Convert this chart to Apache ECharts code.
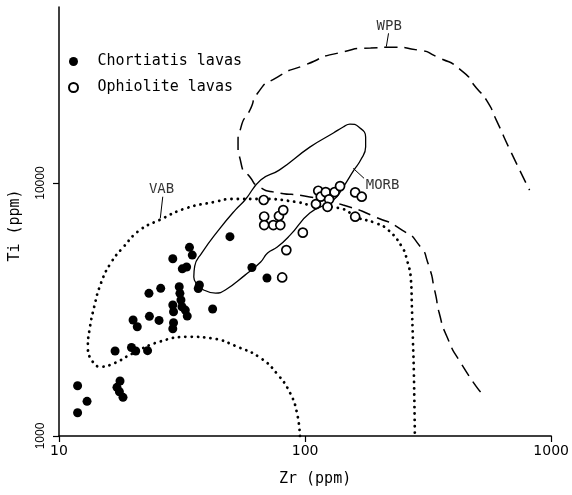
<!DOCTYPE html>
<html><head><meta charset="utf-8">
<script src="https://cdn.jsdelivr.net/npm/echarts@6/dist/echarts.min.js"></script>
<style>html,body{margin:0;padding:0;background:#fff}#c{width:572px;height:495px}</style>
</head><body><div id="c"></div>
<script>
// Chortiatis lavas (filled)
const chortiatisZr = [11.9,13.0,11.9,17.7,17.2,17.6,18.2,16.9,19.7,20.5,22.9,20.0,20.8,23.3,25.5,23.2,25.9,29.0,33.9,34.8,31.7,33.0,30.8,31.0,31.3,29.0,29.2,31.6,32.6,33.2,29.2,29.0,37.2,36.8,42.1,49.5,60.8,70.0];
const chortiatisTi = [1580,1371,1236,1649,1557,1496,1422,2168,2239,2168,2174,2874,2704,2972,2864,3664,3836,5023,5570,5190,4580,4655,3892,3664,3448,3296,3098,3243,3147,2978,2804,2655,3955,3831,3177,6137,4634,4212];
// Ophiolite lavas (open)
const ophioliteZr = [67.9,68.2,68.2,74.3,79.3,78.3,81.5,97.9,83.9,80.7,110.7,113.1,115.8,121.3,125.2,123.3,131.8,138.7,159.8,169.9,159.8];
const ophioliteTi = [8570,7374,6823,6823,6823,7408,7818,6368,5432,4236,8261,9325,8831,9206,8622,8054,9206,9727,9185,8831,7364];
// Field boundaries
const vabZr = [95.3,92.7,86.9,77.1,66.0,53.4,41.8,33.7,25.6,20.0,16.7,14.8,13.7,13.1,13.3,13.9,14.8,16.2,18.3,21.3,25.6,32.7,43.2,50.1,68.5,92.7,104.5,142.8,161.1,193.4,217.8,247.8,259.4,269.2,271.6,274.2,276.7,279.3];
const vabTi = [1000,1233,1479,1758,2032,2248,2432,2467,2359,2124,1936,1879,1967,2254,2624,3243,4015,4815,5596,6518,7142,7943,8433,8650,8650,8410,8185,7888,7337,6950,6518,5582,4966,4140,3236,2393,1775,1000];
const morbZr = [38.7,36.3,35.3,35.6,38.0,44.5,52.0,57.0,66.0,78.5,104.5,130.3,142.8,152.2,165.3,176.2,176.2,168.2,157.8,142.8,130.3,104.5,86.9,77.1,70.4,66.0,57.0,47.4,43.3,38.7];
const morbTi = [3776,3990,4250,4695,5287,6518,7818,8570,10280,11250,13870,15770,16650,17110,16650,15210,13870,12330,11250,9636,8570,7607,6224,5582,5287,4875,4325,3776,3673,3776];
const wpbZr = [516.4,429.5,377.6,350.8,338.1,314.5,292.4,247.8,193.4,142.8,104.5,73.7,65.4,59.7,54.9,53.4,54.9,59.7,64.2,77.2,99.8,136.3,184.5,228.0,287.1,345.1,429.5,497.7,545.8,598.4,680.6,817.0];
const wpbTi = [1493,1943,2461,3062,3673,4875,5636,6518,7337,8185,8810,9240,9643,10560,12000,14390,16640,19440,22690,26240,29270,32650,34200,34400,33570,31480,27970,23710,21260,17730,13490,9380];
// Field labels and leader lines
const fieldNames = ['VAB','MORB','WPB'];
const fieldLabelZr = [26.1,176.4,219.8];
const fieldLabelTi = [9460,9770,41750];
const vabLeaderZr = [26.4,25.8], vabLeaderTi = [8830,7253];
const morbLeaderZr = [157,173.6], morbLeaderTi = [11430,10440];
const wpbLeaderZr = [218.3,213.8], wpbLeaderTi = [39080,34590];
// Axes
const xTicks = [10,100,1000];
const yTicks = [1000,10000];
const xMin = 10, xMax = 1000, yMin = 1000, yMax = 49660;

const zip = (a,b) => a.map((v,i)=>[v,b[i]]);
const mono = 'DejaVu Sans Mono';
const ink = '#000';

const chart = echarts.init(document.getElementById('c'), null, {renderer:'canvas'});
const lineBase = {type:'line', symbol:'none', silent:true, z:2};
chart.setOption({
  animation:false,
  backgroundColor:'#fff',
  grid:{left:57.5, right:13, top:7, bottom:59, containLabel:false},
  legend:{
    orient:'vertical', left:63, top:49, itemWidth:10, itemHeight:9, itemGap:11,
    data:['Chortiatis lavas','Ophiolite lavas'],
    textStyle:{fontFamily:mono, fontSize:15, color:ink, padding:[0,0,0,14]},
    selectedMode:false
  },
  xAxis:{
    type:'log', logBase:10, min:xMin, max:xMax,
    axisLine:{lineStyle:{color:ink, width:1.5}},
    axisTick:{length:6, lineStyle:{color:ink, width:1.2}, customValues:xTicks},
    axisLabel:{color:ink, fontSize:14, fontFamily:'DejaVu Sans', margin:8, customValues:xTicks,
      formatter:v=>String(Math.round(v))},
    splitLine:{show:false},
    name:'Zr (ppm)', nameLocation:'middle', nameGap:36,
    nameTextStyle:{fontFamily:mono, fontSize:15, color:ink, padding:[0,0,0,20]}
  },
  yAxis:{
    type:'log', logBase:10, min:yMin, max:yMax,
    axisLine:{lineStyle:{color:ink, width:1.5}},
    axisTick:{length:6, lineStyle:{color:ink, width:1.2}, customValues:yTicks},
    axisLabel:{color:ink, fontSize:12, fontFamily:'Liberation Sans', rotate:90, margin:12, customValues:yTicks,
      formatter:v=>String(Math.round(v))},
    splitLine:{show:false},
    name:'Ti (ppm)', nameLocation:'middle', nameGap:36,
    nameTextStyle:{fontFamily:mono, fontSize:15, color:ink, padding:[0,0,0,-8]}
  },
  series:[
    Object.assign({}, lineBase, {name:'VAB', data:zip(vabZr,vabTi), smooth:0.5,
      lineStyle:{color:ink, width:2.8, type:[0.1,6.2], cap:'round'}}),
    Object.assign({}, lineBase, {name:'MORB', data:zip(morbZr,morbTi), smooth:0.5,
      lineStyle:{color:ink, width:1.3}}),
    Object.assign({}, lineBase, {name:'WPB', data:zip(wpbZr,wpbTi), smooth:0.75,
      lineStyle:{color:ink, width:1.5, type:[13,7]}}),
    Object.assign({}, lineBase, {data:zip(vabLeaderZr,vabLeaderTi), lineStyle:{color:ink, width:1}}),
    Object.assign({}, lineBase, {data:zip(morbLeaderZr,morbLeaderTi), lineStyle:{color:ink, width:1}}),
    Object.assign({}, lineBase, {data:zip(wpbLeaderZr,wpbLeaderTi), lineStyle:{color:ink, width:1}}),
    {type:'scatter', silent:true, symbolSize:0, z:3,
     data:fieldNames.map((n,i)=>({value:[fieldLabelZr[i],fieldLabelTi[i]], name:n,
       label:{align: n==='MORB' ? 'left' : 'center'}})),
     label:{show:true, position:'inside', formatter:p=>p.name, fontFamily:mono, fontSize:14, color:ink}},
    {name:'Chortiatis lavas', type:'scatter', z:5, symbol:'circle', symbolSize:9,
     itemStyle:{color:ink, opacity:1}, data:zip(chortiatisZr,chortiatisTi)},
    {name:'Ophiolite lavas', type:'scatter', z:6, symbol:'circle', symbolSize:9,
     itemStyle:{color:'#fff', borderColor:ink, borderWidth:1.7, opacity:1}, data:zip(ophioliteZr,ophioliteTi)}
  ]
});
</script></body></html>
